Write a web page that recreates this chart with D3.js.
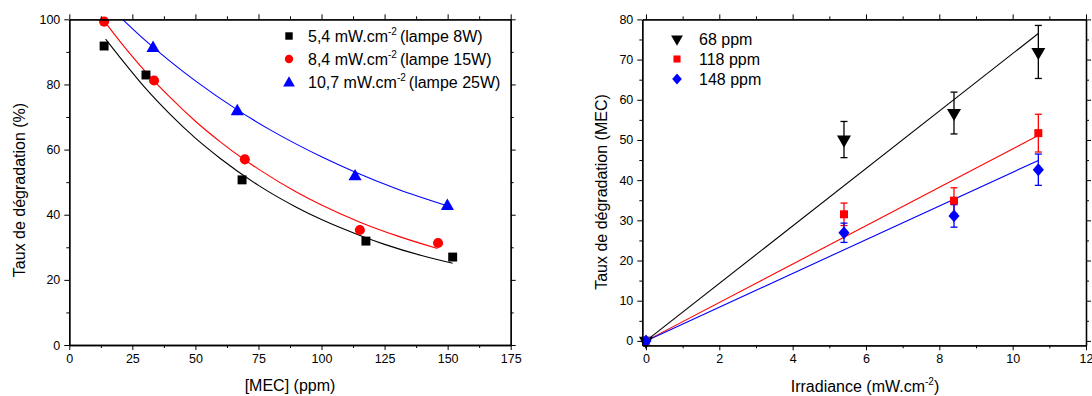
<!DOCTYPE html>
<html><head><meta charset="utf-8">
<script src="https://cdn.jsdelivr.net/npm/d3@7"></script>
<style>
body{margin:0;background:#fff;}
svg{display:block;font-family:"Liberation Sans",Arial,sans-serif;}
</style></head>
<body><svg id="c" width="1092" height="396"></svg>
<script>
// ---------- Left chart data ----------
const leftSeriesNames = ["5,4 mW.cm", "8,4 mW.cm", "10,7 mW.cm"];
const leftSeriesLamps = ["(lampe 8W)", "(lampe 15W)", "(lampe 25W)"];
const leftColors = ["#000000", "#ff0000", "#0000ff"];
const mec54X = [13.8, 30.4, 68.5, 117.6, 152.0];
const mec54Y = [91.8, 82.9, 50.7, 31.9, 27.0];
const mec84X = [13.8, 33.6, 69.6, 115.2, 146.2];
const mec84Y = [99.3, 81.2, 57.0, 35.3, 31.3];
const mec107X = [33.2, 66.6, 113.3, 149.9];
const mec107Y = [91.6, 72.2, 52.2, 43.1];
// fitted curves
const fit54X = [14.4, 20, 30, 40, 50, 60, 75, 90, 100, 115, 125, 140, 152];
const fit54Y = [93.9, 88.4, 79.0, 70.8, 63.5, 57.2, 49.0, 42.3, 38.5, 33.7, 30.9, 27.4, 25.1];
const fit84X = [13.8, 20, 30, 40, 50, 60, 69.6, 75, 90, 100, 115, 130, 146];
const fit84Y = [99.5, 93.3, 84.1, 76.0, 68.7, 62.3, 56.8, 54.0, 47.0, 43.0, 37.8, 33.5, 29.6];
const fit107X = [21.1, 30, 40, 50, 66.6, 80, 100, 113, 130, 150];
const fit107Y = [100, 93.6, 87.1, 81.1, 72.2, 65.9, 57.8, 53.2, 47.9, 42.7];
const leftXTicks = [0, 25, 50, 75, 100, 125, 150, 175];
const leftYTicks = [0, 20, 40, 60, 80, 100];

// ---------- Right chart data ----------
const rightSeriesNames = ["68 ppm", "118 ppm", "148 ppm"];
const rightColors = ["#000000", "#ff0000", "#0000ff"];
const irrX = [0, 5.4, 8.4, 10.7];
const ppm68Y = [0, 50.1, 56.7, 71.9];
const ppm68Err = [0, 4.5, 5.2, 6.6];
const ppm118Y = [0, 31.5, 34.9, 51.7];
const ppm118Err = [0, 2.8, 3.2, 4.7];
const ppm148Y = [0, 26.9, 31.1, 42.6];
const ppm148Err = [0, 2.4, 2.8, 3.9];
const fitLineX = [0, 10.7];
const fit68Y = [0, 76.5];
const fit118Y = [0, 51.1];
const fit148Y = [0, 44.9];
const rightXTicks = [0, 2, 4, 6, 8, 10, 12];
const rightYTicks = [0, 10, 20, 30, 40, 50, 60, 70, 80];

const svg = d3.select("#c");

function drawFrame(g, x, y, xTicks, yTicks, xMinor, yMinor) {
  const [x0, x1] = x.range(), [y0, y1] = y.range();
  g.append("g").attr("transform", `translate(0,${y0})`)
    .call(d3.axisBottom(x).tickValues(xTicks).tickSize(5).tickSizeOuter(0).tickPadding(4))
    .call(s => s.selectAll("text").attr("font-size", 12.5).attr("fill", "#000"));
  g.append("g").attr("transform", `translate(0,${y0})`)
    .call(d3.axisBottom(x).tickValues(xMinor).tickSize(3).tickSizeOuter(0).tickFormat(""));
  g.append("g").attr("transform", `translate(0,${y1})`)
    .call(d3.axisTop(x).tickValues(xTicks).tickSize(5).tickSizeOuter(0).tickFormat(""));
  g.append("g").attr("transform", `translate(0,${y1})`)
    .call(d3.axisTop(x).tickValues(xMinor).tickSize(3).tickSizeOuter(0).tickFormat(""));
  g.append("g").attr("transform", `translate(${x0},0)`)
    .call(d3.axisLeft(y).tickValues(yTicks).tickSize(5).tickSizeOuter(0).tickPadding(4))
    .call(s => s.selectAll("text").attr("font-size", 12.5).attr("fill", "#000"));
  g.append("g").attr("transform", `translate(${x0},0)`)
    .call(d3.axisLeft(y).tickValues(yMinor).tickSize(3).tickSizeOuter(0).tickFormat(""));
  g.append("g").attr("transform", `translate(${x1},0)`)
    .call(d3.axisRight(y).tickValues(yTicks).tickSize(5).tickSizeOuter(0).tickFormat(""));
  g.append("g").attr("transform", `translate(${x1},0)`)
    .call(d3.axisRight(y).tickValues(yMinor).tickSize(3).tickSizeOuter(0).tickFormat(""));
  g.selectAll(".domain").attr("stroke", "#000").attr("stroke-width", 1.3);
  g.selectAll(".tick line").attr("stroke", "#000").attr("stroke-width", 1);
  g.selectAll(".tick text").attr("font-family", "Liberation Sans, Arial, sans-serif");
}

function marker(type, size) {
  if (type === "diamond") {
    const w = Math.sqrt(size) * 0.62, h = Math.sqrt(size) * 0.72;
    return `M0,${-h}L${w},0L0,${h}L${-w},0Z`;
  }
  const map = {square: d3.symbolSquare, circle: d3.symbolCircle, triangle: d3.symbolTriangle, down: d3.symbolTriangle};
  return d3.symbol().type(map[type]).size(size)();
}

// ---------- LEFT ----------
{
  const x = d3.scaleLinear([0, 175], [69.3, 510.7]);
  const y = d3.scaleLinear([0, 100], [345, 19.3]);
  const g = svg.append("g");
  const xMinor = d3.range(0, 7).map(i => 12.5 + 25 * i);
  const yMinor = [10, 30, 50, 70, 90];
  const fits = [[fit54X, fit54Y], [fit84X, fit84Y], [fit107X, fit107Y]];
  const line = d3.line().x(d => x(d[0])).y(d => y(d[1])).curve(d3.curveMonotoneX);
  fits.forEach((f, i) => {
    g.append("path").attr("d", line(f[0].map((v, j) => [v, f[1][j]])))
      .attr("fill", "none").attr("stroke", leftColors[i]).attr("stroke-width", 1.1);
  });
  const pts = [[mec54X, mec54Y, "square", 80], [mec84X, mec84Y, "circle", 80], [mec107X, mec107Y, "triangle", 75]];
  pts.forEach((p, i) => {
    g.selectAll(null).data(p[0].map((v, j) => [v, p[1][j]])).enter().append("path")
      .attr("d", marker(p[2], p[3]))
      .attr("transform", d => `translate(${x(d[0])},${y(d[1]) + (p[2] === "triangle" ? 1.5 : 0)})`)
      .attr("fill", leftColors[i]);
  });
  drawFrame(g, x, y, leftXTicks, leftYTicks, xMinor, yMinor);
  const legY = [36, 59, 82];
  leftSeriesNames.forEach((n, i) => {
    const t = ["square", "circle", "triangle"][i];
    g.append("path").attr("d", marker(t, t === "triangle" ? 60 : 55))
      .attr("transform", `translate(289,${legY[i] + (t === "triangle" ? 1 : 0)})`).attr("fill", leftColors[i]);
    const tx = g.append("text").attr("x", 308).attr("y", legY[i] + 5.5).attr("font-size", 16).attr("fill", "#000");
    tx.append("tspan").text(n);
    tx.append("tspan").attr("dy", -7).attr("font-size", 10).text("-2");
    tx.append("tspan").attr("dy", 7).attr("dx", 3).text(leftSeriesLamps[i]);
  });
  g.append("text").attr("x", 290).attr("y", 391).attr("text-anchor", "middle")
    .attr("font-size", 16).text("[MEC] (ppm)");
  g.append("text").attr("transform", "translate(25,190) rotate(-90)").attr("text-anchor", "middle")
    .attr("font-size", 16).text("Taux de dégradation (%)");
}

// ---------- RIGHT ----------
{
  const x = d3.scaleLinear([-0.1, 12], [642.3, 1086]);
  const y = d3.scaleLinear([-1.1, 80], [345.3, 19.4]);
  const g = svg.append("g");
  const xMinor = [1, 3, 5, 7, 9, 11];
  const yMinor = [5, 15, 25, 35, 45, 55, 65, 75];
  const fits = [fit68Y, fit118Y, fit148Y];
  fits.forEach((f, i) => {
    g.append("line").attr("x1", x(fitLineX[0])).attr("y1", y(f[0]))
      .attr("x2", x(fitLineX[1])).attr("y2", y(f[1]))
      .attr("stroke", rightColors[i]).attr("stroke-width", 1.1);
  });
  const ser = [[ppm68Y, ppm68Err, "down", 85], [ppm118Y, ppm118Err, "square", 64], [ppm148Y, ppm148Err, "diamond", 80]];
  ser.forEach((s, i) => {
    const data = irrX.map((v, j) => [v, s[0][j], s[1][j]]).filter(d => d[2] > 0);
    data.forEach(d => {
      const xx = x(d[0]);
      g.append("line").attr("x1", xx).attr("x2", xx).attr("y1", y(d[1] - d[2])).attr("y2", y(d[1] + d[2]))
        .attr("stroke", rightColors[i]).attr("stroke-width", 1.3);
      [d[1] - d[2], d[1] + d[2]].forEach(v => {
        g.append("line").attr("x1", xx - 3.5).attr("x2", xx + 3.5).attr("y1", y(v)).attr("y2", y(v))
          .attr("stroke", rightColors[i]).attr("stroke-width", 1.3);
      });
    });
  });
  ser.forEach((s, i) => {
    g.selectAll(null).data(irrX.map((v, j) => [v, s[0][j]])).enter().append("path")
      .attr("d", marker(s[2], s[3]))
      .attr("transform", d => `translate(${x(d[0])},${y(d[1])})` + (s[2] === "down" ? " rotate(180)" : ""))
      .attr("fill", rightColors[i]);
  });
  drawFrame(g, x, y, rightXTicks, rightYTicks, xMinor, yMinor);
  const legY = [39, 59, 79];
  rightSeriesNames.forEach((n, i) => {
    const t = ["down", "square", "diamond"][i];
    g.append("path").attr("d", marker(t, t === "down" ? 60 : (t === "square" ? 50 : 60)))
      .attr("transform", `translate(677,${legY[i]})` + (t === "down" ? " rotate(180)" : ""))
      .attr("fill", rightColors[i]);
    g.append("text").attr("x", 699).attr("y", legY[i] + 5.5).attr("font-size", 16).text(n);
  });
  const xt = g.append("text").attr("x", 865).attr("y", 392).attr("text-anchor", "middle").attr("font-size", 16);
  xt.append("tspan").text("Irradiance (mW.cm");
  xt.append("tspan").attr("dy", -7).attr("font-size", 10).text("-2");
  xt.append("tspan").attr("dy", 7).text(")");
  g.append("text").attr("transform", "translate(607,192) rotate(-90)").attr("text-anchor", "middle")
    .attr("font-size", 16).text("Taux de dégradation (MEC)");
}
</script></body></html>
